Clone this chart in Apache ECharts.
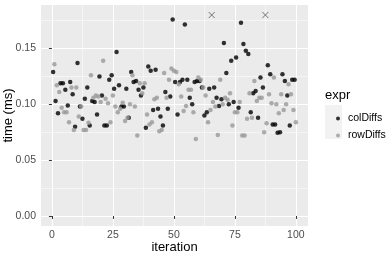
<!DOCTYPE html>
<html><head><meta charset="utf-8">
<script src="https://cdn.jsdelivr.net/npm/echarts@6/dist/echarts.min.js"></script>
<style>html,body{margin:0;padding:0;background:#fff}#c{width:390px;height:260px}</style>
</head><body><div id="c"></div>
<script>
// colDiffs: one value per iteration slot (x = 0.5, 1.5, ... 99.5); null = clipped outlier
const colDiffs = [
 0.129,0.103,0.092,0.119,0.119,0.113,0.099,0.120,0.109,0.080,
 0.137,0.098,0.087,0.105,0.115,0.081,0.103,0.102,0.091,0.125,
 0.108,0.081,0.081,0.122,0.126,0.114,0.147,0.117,0.098,0.098,
 0.114,0.088,0.129,0.120,0.121,0.113,0.108,0.115,0.079,0.134,
 0.130,0.095,0.131,0.096,0.089,0.081,0.111,0.096,0.107,0.176,
 0.120,0.091,0.120,0.122,0.1715,0.122,0.106,0.100,0.120,0.121,
 0.121,0.115,0.090,0.093,0.114,null,0.115,0.106,0.0985,0.1045,
 0.155,0.128,0.100,0.139,0.102,0.142,0.097,0.173,0.154,0.148,
 0.145,0.093,0.110,0.112,0.088,0.124,0.115,null,0.135,0.127,
 0.082,0.082,0.0745,0.075,0.127,0.121,0.108,0.081,0.122,0.122];
// rowDiffs: one value per iteration (x = 1 ... 100)
const rowDiffs = [
 0.136,0.117,0.111,0.097,0.093,0.093,0.084,0.115,0.077,0.115,
 0.089,0.098,0.077,0.077,0.0835,0.126,0.106,0.108,0.107,0.102,
 0.139,0.105,0.101,0.084,0.108,0.098,0.093,0.096,0.1015,0.085,
 0.088,0.100,0.126,0.098,0.072,0.119,0.110,0.119,0.091,0.082,
 0.084,0.1045,0.106,0.076,0.077,0.128,0.106,0.122,0.132,0.130,
 0.129,0.118,0.107,0.094,0.0985,0.113,0.113,0.093,0.069,0.124,
 0.122,0.115,0.108,0.084,0.095,0.102,0.098,0.0725,0.122,0.100,
 0.106,0.104,0.110,0.081,0.093,0.093,0.102,0.072,0.072,0.087,
 0.110,0.088,0.121,0.103,0.106,0.106,0.075,0.083,0.109,0.101,
 0.124,0.100,0.092,0.109,0.095,0.100,0.118,0.109,0.095,0.084];
const outlierIter = [65.5, 87.5];
const outlierTime = [0.18, 0.18];
const xTicks = [0, 25, 50, 75, 100];
const xMinor = [12.5, 37.5, 62.5, 87.5];
const yTicks = [0, 0.05, 0.10, 0.15];
const yMinor = [0.025, 0.075, 0.125, 0.175];
const xRange = [-4.475, 104.975];
const yRange = [-0.009, 0.189];

const FONT = '"Liberation Sans", Arial, sans-serif';
const colData = colDiffs.map((v, k) => [k + 0.5, v]).filter(p => p[1] != null);
const rowData = rowDiffs.map((v, k) => [k + 1, v]);
const outData = outlierIter.map((x, k) => [x, outlierTime[k]]);

function mainAxis(ticks, range, extra) {
  return Object.assign({
    type: 'value', min: range[0], max: range[1],
    axisLine: {show: false},
    axisTick: {show: true, length: 3, customValues: ticks, lineStyle: {color: '#333333', width: 1}},
    splitLine: {show: true, lineStyle: {color: '#FFFFFF', width: 1.07}},
    nameMoveOverlap: false,
    nameTextStyle: {color: '#000', fontSize: 13, fontFamily: FONT}
  }, extra);
}
function minorAxis(ticks, range, pos) {
  return {
    type: 'value', min: range[0], max: range[1], position: pos,
    axisLine: {show: false},
    axisTick: {show: false, customValues: ticks},
    axisLabel: {show: false, customValues: ticks},
    splitLine: {show: true, lineStyle: {color: '#FFFFFF', width: 0.53}}
  };
}

const chart = echarts.init(document.getElementById('c'), null, {renderer: 'canvas'});
chart.setOption({
  animation: false,
  backgroundColor: '#FFFFFF',
  textStyle: {fontFamily: FONT},
  title: {text: 'expr', left: 325, top: 89, padding: 0,
    textStyle: {fontSize: 13, fontWeight: 'normal', color: '#000', fontFamily: FONT}},
  grid: {left: 41, right: 82, top: 5, bottom: 34, show: true, backgroundColor: '#EBEBEB',
    borderWidth: 0, containLabel: false, outerBoundsMode: 'none'},
  graphic: [{type: 'rect', left: 325, top: 105, z: -1, silent: true,
    shape: {width: 17, height: 34}, style: {fill: '#F2F2F2'}}],
  legend: {data: ['colDiffs', 'rowDiffs'], orient: 'vertical', left: 331, top: 105,
    itemWidth: 4, itemHeight: 4, itemGap: 0, icon: 'circle', selectedMode: false,
    textStyle: {fontSize: 10.5, lineHeight: 17, color: '#000', fontFamily: FONT, padding: [0, 0, 0, 3]}},
  xAxis: [
    mainAxis(xTicks, xRange, {position: 'bottom', name: 'iteration', nameLocation: 'middle', nameGap: 15,
      axisLabel: {customValues: xTicks, color: '#4D4D4D', fontSize: 10.5, fontFamily: FONT, margin: 4,
        formatter: v => String(Math.round(v))}}),
    minorAxis(xMinor, xRange, 'top')
  ],
  yAxis: [
    mainAxis(yTicks, yRange, {position: 'left', name: 'time (ms)', nameLocation: 'middle', nameGap: 26,
      axisLabel: {customValues: yTicks, color: '#4D4D4D', fontSize: 10.5, fontFamily: FONT, margin: 5,
        formatter: v => v.toFixed(2)}}),
    minorAxis(yMinor, yRange, 'right')
  ],
  series: [
    {name: 'colDiffs', type: 'scatter', data: colData, symbol: 'circle', symbolSize: 4.5,
      itemStyle: {color: '#000000'}, z: 3},
    {name: 'rowDiffs', type: 'scatter', data: rowData, symbol: 'circle', symbolSize: 4.5,
      itemStyle: {color: '#999999'}, z: 3},
    {name: 'outliers', type: 'scatter', data: outData, symbol: 'path://M0,0L10,10M10,0L0,10', symbolSize: 6,
      itemStyle: {color: 'none', borderColor: '#555555', borderWidth: 1}, z: 3}
  ]
});
</script></body></html>
